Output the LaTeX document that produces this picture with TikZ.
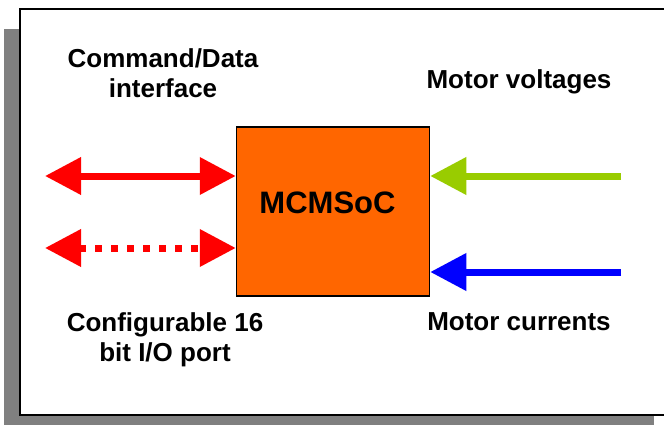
\documentclass[tikz,border=0pt]{standalone}
\usepackage{fontspec}
\setmainfont{Liberation Sans}
\usetikzlibrary{arrows.meta}
\definecolor{socorange}{RGB}{255,102,0}
\definecolor{voltgreen}{RGB}{153,204,0}
\definecolor{curblue}{RGB}{0,0,255}
\definecolor{shadowgray}{RGB}{128,128,128}

\begin{document}
\begin{tikzpicture}[x=1pt, y=-1pt,
    lbl/.style={font=\fontsize{26}{30}\selectfont\bfseries, align=center, inner sep=0pt},
    bus/.style={line width=7pt, {Triangle[length=36pt, width=36pt]}-{Triangle[length=36pt, width=36pt]}},
    feed/.style={line width=7pt, -{Triangle[length=36pt, width=36pt]}}]
  \useasboundingbox (0, 0) rectangle (664, 425);
  \clip (0, 0) rectangle (664, 425);
  % shadow and frame
  \fill [shadowgray] (4, 29) rectangle (654, 425);
  \draw [fill=white, line width=2pt] (20, 9) rectangle (680, 415);
  \node [draw, line width=1.5pt, fill=socorange, minimum width=193pt, minimum height=169pt] (soc) at (333, 211.5) {};
  \node [anchor=base, inner sep=0pt, font=\fontsize{31}{31}\selectfont\bfseries] (socname) at (327.5, 213) {MCMSoC};
  \coordinate (cmdend) at (45, 176);
  \coordinate (ioend) at (45, 248);
  \coordinate (voltin) at (621, 176);
  \coordinate (curin) at (621, 272);
  \draw [bus, red] (cmdend) -- (cmdend -| soc.west);
  \draw [bus, red, dash pattern=on 7pt off 9pt] (ioend) -- (ioend -| soc.west);
  \draw [feed, voltgreen] (voltin) -- (voltin -| soc.east);
  \draw [feed, curblue] (curin) -- (curin -| soc.east);
  \node [lbl] (cmdlbl) at (163, 73) {Command/Data\\interface};
  \node [lbl] (voltlbl) at (519, 82) {Motor voltages};
  \node [lbl] (iolbl) at (165, 340) {Configurable 16\\bit I/O port};
  \node [lbl] (curlbl) at (519, 322) {Motor currents};
\end{tikzpicture}
\end{document}
